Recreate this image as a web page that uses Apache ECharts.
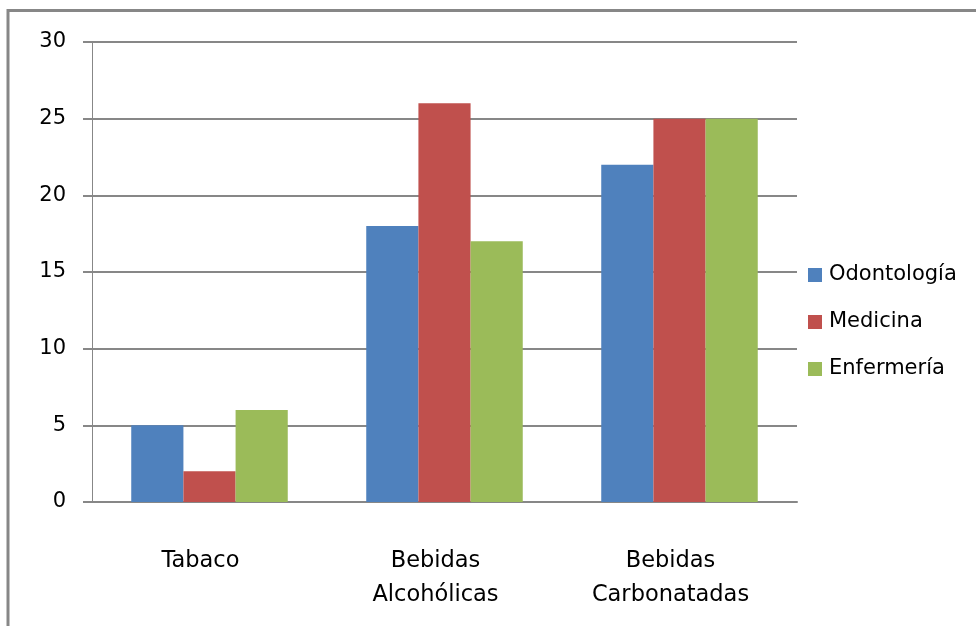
<!DOCTYPE html>
<html>
<head>
<meta charset="utf-8">
<script src="https://cdn.jsdelivr.net/npm/echarts@6/dist/echarts.min.js"></script>
<style>
  html, body { margin: 0; padding: 0; background: #fff; }
  #chart { width: 976px; height: 626px; }
</style>
</head>
<body>
<div id="chart"></div>
<script>
// Consumo por carrera
const categories = ['Tabaco', 'Bebidas\nAlcohólicas', 'Bebidas\nCarbonatadas'];
const odontologia = [5, 18, 22];
const medicina = [2, 26, 25];
const enfermeria = [6, 17, 25];
const yTicks = { min: 0, max: 30, interval: 5 };

const FONT = 'DejaVu Sans';
const GRAY = '#878787';

const chart = echarts.init(document.getElementById('chart'), null, { renderer: 'canvas' });

function barSeries(name, data, color) {
  return {
    name: name,
    type: 'bar',
    data: data,
    barGap: '0%',
    barCategoryGap: '33.4%',
    itemStyle: { color: color },
    emphasis: { disabled: true }
  };
}

chart.setOption({
  animation: false,
  backgroundColor: '#ffffff',
  textStyle: { fontFamily: FONT },
  grid: { left: 92, right: 179, top: 42, bottom: 124, containLabel: false },
  graphic: [
    // outer frame (top and left edges)
    { type: 'line', shape: { x1: 7, y1: 10.5, x2: 976, y2: 10.5 }, style: { stroke: GRAY, lineWidth: 3 } },
    { type: 'line', shape: { x1: 8, y1: 9, x2: 8, y2: 626 }, style: { stroke: GRAY, lineWidth: 3 } }
  ],
  legend: {
    orient: 'vertical',
    left: 803,
    top: 259,
    itemWidth: 14,
    itemHeight: 14,
    itemGap: 25,
    icon: 'rect',
    textStyle: { fontFamily: FONT, fontSize: 21, color: '#000', lineHeight: 22, padding: [0, 0, 0, 2] },
    data: ['Odontología', 'Medicina', 'Enfermería']
  },
  xAxis: {
    type: 'category',
    data: categories,
    axisLine: { show: true, lineStyle: { color: GRAY, width: 2 } },
    axisTick: { show: false },
    axisLabel: {
      interval: 0,
      margin: 42,
      fontFamily: FONT,
      fontSize: 22.5,
      lineHeight: 34,
      color: '#000',
      verticalAlign: 'top',
      padding: [0, 18, 0, 0]
    },
    splitLine: { show: false }
  },
  yAxis: {
    type: 'value',
    min: yTicks.min,
    max: yTicks.max,
    interval: yTicks.interval,
    axisLine: { show: true, lineStyle: { color: GRAY, width: 1 } },
    axisTick: { show: true, length: 9, lineStyle: { color: GRAY, width: 2 } },
    axisLabel: { margin: 26, fontFamily: FONT, fontSize: 21, color: '#000' },
    splitLine: { show: true, lineStyle: { color: GRAY, width: 2 } }
  },
  series: [
    barSeries('Odontología', odontologia, '#4F81BD'),
    barSeries('Medicina', medicina, '#C0504D'),
    barSeries('Enfermería', enfermeria, '#9BBB59')
  ]
});
</script>
</body>
</html>
